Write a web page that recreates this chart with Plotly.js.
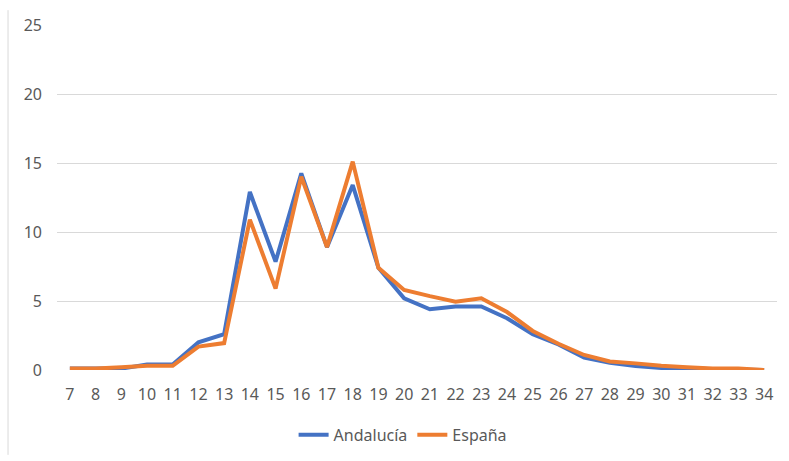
<!DOCTYPE html>
<html>
<head>
<meta charset="utf-8">
<script src="https://cdn.plot.ly/plotly-3.0.1.min.js"></script>
<style>html,body{margin:0;padding:0;background:#fff;}#chart{width:789px;height:461px;}</style>
</head>
<body>
<div id="chart"></div>
<script>
const edades = [7,8,9,10,11,12,13,14,15,16,17,18,19,20,21,22,23,24,25,26,27,28,29,30,31,32,33,34];
const andalucia = [0.1,0.1,0.1,0.4,0.4,2.0,2.6,12.9,7.85,14.25,8.9,13.4,7.4,5.2,4.4,4.6,4.6,3.75,2.6,1.85,0.9,0.53,0.29,0.15,0.15,0.05,0.05,0.0];
const espana = [0.1,0.1,0.2,0.3,0.3,1.7,1.95,10.9,5.9,14.0,8.9,15.1,7.4,5.8,5.35,4.95,5.2,4.2,2.83,1.9,1.09,0.62,0.48,0.3,0.2,0.1,0.1,0.0];
const yTicks = [0,5,10,15,20,25];

const traces = [
  {x: edades, y: andalucia, name: 'Andalucía', type: 'scatter', mode: 'lines',
   line: {color: '#4472C4', width: 4}},
  {x: edades, y: espana, name: 'España', type: 'scatter', mode: 'lines',
   line: {color: '#ED7D31', width: 4}}
];

const layout = {
  width: 789, height: 461,
  margin: {l: 57, r: 12, t: 25, b: 91, autoexpand: false},
  paper_bgcolor: '#fff', plot_bgcolor: '#fff',
  font: {family: 'Noto Sans, sans-serif', size: 16, color: '#595959'},
  showlegend: true,
  legend: {orientation: 'h', x: 0.48, xanchor: 'center', y: -0.188, yanchor: 'middle',
           font: {size: 16, color: '#595959'}, tracegroupgap: 0},
  xaxis: {range: [6.5, 34.5], tickvals: edades, ticktext: edades.map(String),
          showgrid: false, zeroline: false, showline: false, ticks: '',
          ticklabelstandoff: 13, automargin: false,
          tickfont: {size: 16, color: '#595959'}, fixedrange: true},
  yaxis: {range: [0, 25], tickvals: yTicks, showgrid: true, gridcolor: '#d9d9d9', gridwidth: 1,
          zeroline: false, showline: false, ticks: '', ticklabelstandoff: 14, automargin: false,
          tickfont: {size: 16, color: '#595959'}, fixedrange: true},
  shapes: [
    {type: 'line', xref: 'paper', yref: 'paper', x0: -0.068, x1: -0.068, y0: -0.246, y1: 1.043,
     line: {color: '#d9d9d9', width: 1}}
  ]
};

Plotly.newPlot('chart', traces, layout, {displayModeBar: false, staticPlot: true});
</script>
</body>
</html>
